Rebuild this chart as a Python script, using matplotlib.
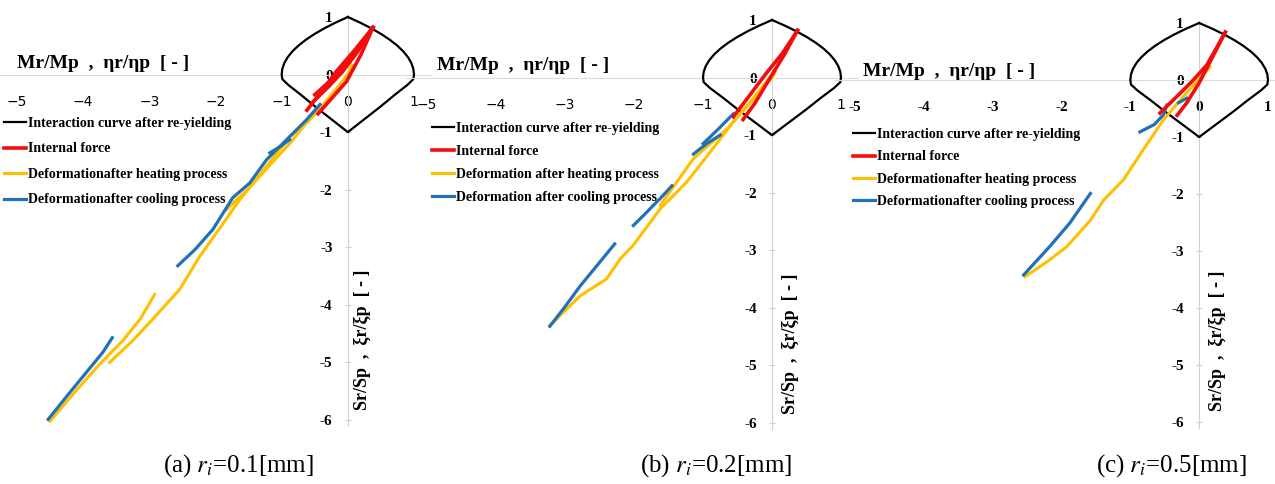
import matplotlib
matplotlib.use("Agg")
import matplotlib.pyplot as plt

plt.rcParams['mathtext.fontset'] = 'stix'

W, H = 1275, 484
SERIF = 'Liberation Serif'

# interaction curve after re-yielding (same in all three panels)
ic_x = [0.00, 0.19, 0.36, 0.51, 0.64, 0.75, 0.84, 0.91, 0.96, 0.99, 1.00, 0.99, 0.90,
        0.70, 0.50, 0.30, 0.10, 0.00, -0.10, -0.30, -0.50, -0.70, -0.90, -0.99, -1.00,
        -0.99, -0.96, -0.91, -0.84, -0.75, -0.64, -0.51, -0.36, -0.19, 0.00]
ic_y = [1.00, 0.90, 0.80, 0.70, 0.60, 0.50, 0.40, 0.30, 0.20, 0.10, 0.00, -0.08, -0.18,
        -0.36, -0.55, -0.73, -0.91, -1.00, -0.91, -0.73, -0.55, -0.36, -0.18, -0.08, 0.00,
        0.10, 0.20, 0.30, 0.40, 0.50, 0.60, 0.70, 0.80, 0.90, 1.00]

# (a) ri = 0.1 mm
a_red1_x = [-0.62, -0.40, -0.17, 0.10, 0.38]
a_red1_y = [-0.62, -0.30, 0.06, 0.42, 0.82]
a_red2_x = [-0.55, -0.30, -0.08, 0.15, 0.38]
a_red2_y = [-0.50, -0.22, 0.05, 0.40, 0.82]
a_red3_x = [-0.45, -0.25, -0.02, 0.20, 0.38]
a_red3_y = [-0.68, -0.42, -0.12, 0.35, 0.82]
a_red4_x = [-0.50, -0.28, -0.05, 0.18, 0.38]
a_red4_y = [-0.35, -0.12, 0.15, 0.48, 0.82]
a_yel1_x = [-4.50, -4.10, -3.75, -3.40, -3.14, -2.92]
a_yel1_y = [-6.02, -5.48, -5.03, -4.62, -4.25, -3.82]
a_yel2_x = [-3.60, -3.25, -2.95, -2.54, -2.24, -1.93, -1.63, -1.33, -0.88, -0.57, -0.27, 0.00, 0.06]
a_yel2_y = [-5.00, -4.62, -4.25, -3.73, -3.16, -2.66, -2.17, -1.74, -1.08, -0.78, -0.38, 0.00, 0.17]
a_yel3_x = [-1.83, -1.50, -1.20, -0.88, -0.60]
a_yel3_y = [-2.34, -1.98, -1.60, -1.20, -0.80]
a_blu1_x = [-4.53, -4.20, -3.85, -3.70, -3.56]
a_blu1_y = [-5.99, -5.52, -5.03, -4.82, -4.57]
a_blu2_x = [-2.57, -2.31, -2.04, -1.74, -1.48, -1.23, -0.88, -0.62, -0.42]
a_blu2_y = [-3.32, -3.04, -2.69, -2.14, -1.88, -1.48, -1.08, -0.78, -0.52]
a_blu3_x = [-1.18, -1.02, -0.88]
a_blu3_y = [-1.36, -1.25, -1.13]

# (b) ri = 0.2 mm
b_red1_x = [-0.56, -0.35, -0.08, 0.15, 0.37]
b_red1_y = [-0.68, -0.35, 0.08, 0.42, 0.82]
b_red2_x = [-0.42, -0.25, -0.05, 0.18, 0.37]
b_red2_y = [-0.73, -0.45, -0.05, 0.40, 0.82]
b_yel1_x = [-3.22, -2.78, -2.40, -2.20, -2.01, -1.62, -1.24, -0.90, -0.56, -0.25, 0.00, 0.05]
b_yel1_y = [-4.31, -3.79, -3.50, -3.15, -2.91, -2.28, -1.82, -1.30, -0.77, -0.35, 0.00, 0.10]
b_yel2_x = [-1.62, -1.14, -0.65, -0.30, 0.00]
b_yel2_y = [-2.22, -1.41, -0.89, -0.40, 0.05]
b_blu1_x = [-3.22, -3.00, -2.78, -2.54, -2.28]
b_blu1_y = [-4.32, -3.98, -3.62, -3.27, -2.89]
b_blu2_x = [-2.01, -1.85, -1.72, -1.62, -1.45]
b_blu2_y = [-2.57, -2.38, -2.22, -2.10, -1.88]
b_blu3_x = [-1.14, -0.95, -0.75]
b_blu3_y = [-1.33, -1.15, -1.00]
b_blu4_x = [-1.00, -0.80, -0.56]
b_blu4_y = [-1.15, -0.92, -0.63]

# (c) ri = 0.5 mm
c_red1_x = [-0.57, -0.35, -0.10, 0.11, 0.38]
c_red1_y = [-0.58, -0.32, -0.02, 0.26, 0.84]
c_red2_x = [-0.32, -0.18, 0.00, 0.15, 0.38]
c_red2_y = [-0.62, -0.40, -0.05, 0.30, 0.84]
c_yel1_x = [-2.53, -2.20, -1.92, -1.58, -1.39, -1.10, -0.80, -0.52, -0.20, 0.16]
c_yel1_y = [-3.45, -3.18, -2.92, -2.46, -2.11, -1.75, -1.20, -0.70, -0.25, 0.23]
c_blu1_x = [-2.55, -2.17, -1.88, -1.58]
c_blu1_y = [-3.42, -2.92, -2.51, -1.99]
c_blu2_x = [-0.86, -0.65, -0.52, -0.47]
c_blu2_y = [-0.91, -0.78, -0.61, -0.44]
c_blu3_x = [-0.30, -0.18]
c_blu3_y = [-0.40, -0.32]

x_ticks = [-5, -4, -3, -2, -1, 0, 1]
y_ticks = [-6, -5, -4, -3, -2, -1, 0, 1]
xlab_minus = ['\u22125', '\u22124', '\u22123', '\u22122', '\u22121', '0', '1']
xlab_hyphen = ['-5', '-4', '-3', '-2', '-1', '0', '1']
ylab = ['-6', '-5', '-4', '-3', '-2', '-1', '0', '1']

captions = ['(a) $r_i$=0.1[mm]', '(b) $r_i$=0.2[mm]', '(c) $r_i$=0.5[mm]']
leg_a = ['Interaction curve after re-yielding', 'Internal force',
         'Deformationafter heating process', 'Deformationafter cooling process']
leg_b = ['Interaction curve after re-yielding', 'Internal force',
         'Deformation after heating process', 'Deformation after cooling process']

RED, YEL, BLU = '#f20c0c', '#ffc000', '#2271b8'

panels = [
    dict(px=(17, 414, 17, 420),
         red=[(a_red1_x, a_red1_y), (a_red2_x, a_red2_y), (a_red3_x, a_red3_y), (a_red4_x, a_red4_y)],
         yel=[(a_yel1_x, a_yel1_y), (a_yel2_x, a_yel2_y), (a_yel3_x, a_yel3_y)],
         blu=[(a_blu1_x, a_blu1_y), (a_blu2_x, a_blu2_y), (a_blu3_x, a_blu3_y)],
         xlab=xlab_minus, leg=leg_a, leg_pos=(4, 117), leg_sp=0.9,
         xl=(17, 63), yl=(362, 340), cap=(238, 466)),
    dict(px=(427, 841, 20, 423), red=[(b_red1_x, b_red1_y), (b_red2_x, b_red2_y)],
         yel=[(b_yel1_x, b_yel1_y), (b_yel2_x, b_yel2_y)],
         blu=[(b_blu1_x, b_blu1_y), (b_blu2_x, b_blu2_y), (b_blu3_x, b_blu3_y), (b_blu4_x, b_blu4_y)],
         xlab=xlab_minus, leg=leg_b, leg_pos=(432, 122), leg_sp=0.72,
         xl=(437, 65), yl=(790, 344), cap=(716, 466)),
    dict(px=(855, 1268, 23, 422), red=[(c_red1_x, c_red1_y), (c_red2_x, c_red2_y)],
         yel=[(c_yel1_x, c_yel1_y)],
         blu=[(c_blu1_x, c_blu1_y), (c_blu2_x, c_blu2_y), (c_blu3_x, c_blu3_y)],
         xlab=xlab_hyphen, leg=leg_a, leg_pos=(853, 128), leg_sp=0.68,
         xl=(863, 72), yl=(1217, 341), cap=(1171, 466)),
]

xlim = (-5.3, 1.25)
ylim = (-6.2, 1.15)

fig = plt.figure(figsize=(W / 100, H / 100), dpi=100)

for i, p in enumerate(panels):
    xm5, x1, y1, ym6 = p['px']
    sx = (x1 - xm5) / 6.0
    sy = (ym6 - y1) / 7.0
    left = xm5 + (xlim[0] + 5) * sx
    right = xm5 + (xlim[1] + 5) * sx
    top = y1 - (ylim[1] - 1) * sy
    bot = y1 - (ylim[0] - 1) * sy
    ax = fig.add_axes([left / W, 1 - bot / H, (right - left) / W, (bot - top) / H])
    ax.patch.set_visible(False)

    h_ic, = ax.plot(ic_x, ic_y, color='black', lw=1.6, zorder=3)
    for xs, ys in p['yel']:
        h_y, = ax.plot(xs, ys, color=YEL, lw=2.2, zorder=4)
    for xs, ys in p['blu']:
        h_b, = ax.plot(xs, ys, color=BLU, lw=2.3, zorder=5)
    for xs, ys in p['red']:
        h_r, = ax.plot(xs, ys, color=RED, lw=2.6, zorder=6)

    ax.set_xlim(*xlim)
    ax.set_ylim(*ylim)
    for s in ['top', 'right']:
        ax.spines[s].set_visible(False)
    ax.spines['left'].set_position(('data', 0))
    ax.spines['bottom'].set_position(('data', 0))
    ax.spines['left'].set_bounds(-6.1, 1.0)
    ax.spines['left'].set_color('#d0d0d0')
    ax.spines['bottom'].set_color('#dcdcdc')

    ax.set_xticks(x_ticks, labels=p['xlab'])
    ax.set_yticks(y_ticks, labels=ylab)
    ax.tick_params(axis='x', length=0, pad=15, labelsize=10)
    ax.tick_params(axis='y', length=4, direction='inout', color='#d0d0d0', pad=9, labelsize=11)
    for t in ax.get_yticklabels():
        t.set_fontfamily(SERIF)
        t.set_fontweight('bold')
    if i == 2:
        for t in ax.get_xticklabels():
            t.set_fontfamily(SERIF)
            t.set_fontweight('bold')
            t.set_fontsize(11)

    lx, ly = p['leg_pos']
    ax.legend([h_ic, h_r, h_y, h_b], p['leg'], loc='upper left',
              bbox_to_anchor=(lx / W, 1 - ly / H), bbox_transform=fig.transFigure,
              frameon=False, borderpad=0, borderaxespad=0, handlelength=1.6,
              handletextpad=0.15, labelspacing=p['leg_sp'],
              prop=dict(family=SERIF, weight='bold', size=10))

    fig.text(p['xl'][0] / W, 1 - p['xl'][1] / H, 'Mr/Mp  ,  \u03b7r/\u03b7p  [ - ]',
             family=SERIF, weight='bold', size=14, ha='left', va='center')
    fig.text(p['yl'][0] / W, 1 - p['yl'][1] / H, 'Sr/Sp  ,  \u03ber/\u03bep  [ - ]',
             family=SERIF, weight='bold', size=13, ha='center', va='center', rotation=90)
    fig.text(p['cap'][0] / W, 1 - p['cap'][1] / H, captions[i],
             family=SERIF, size=18, ha='center', va='center')

fig.savefig('out.png', dpi=100)
